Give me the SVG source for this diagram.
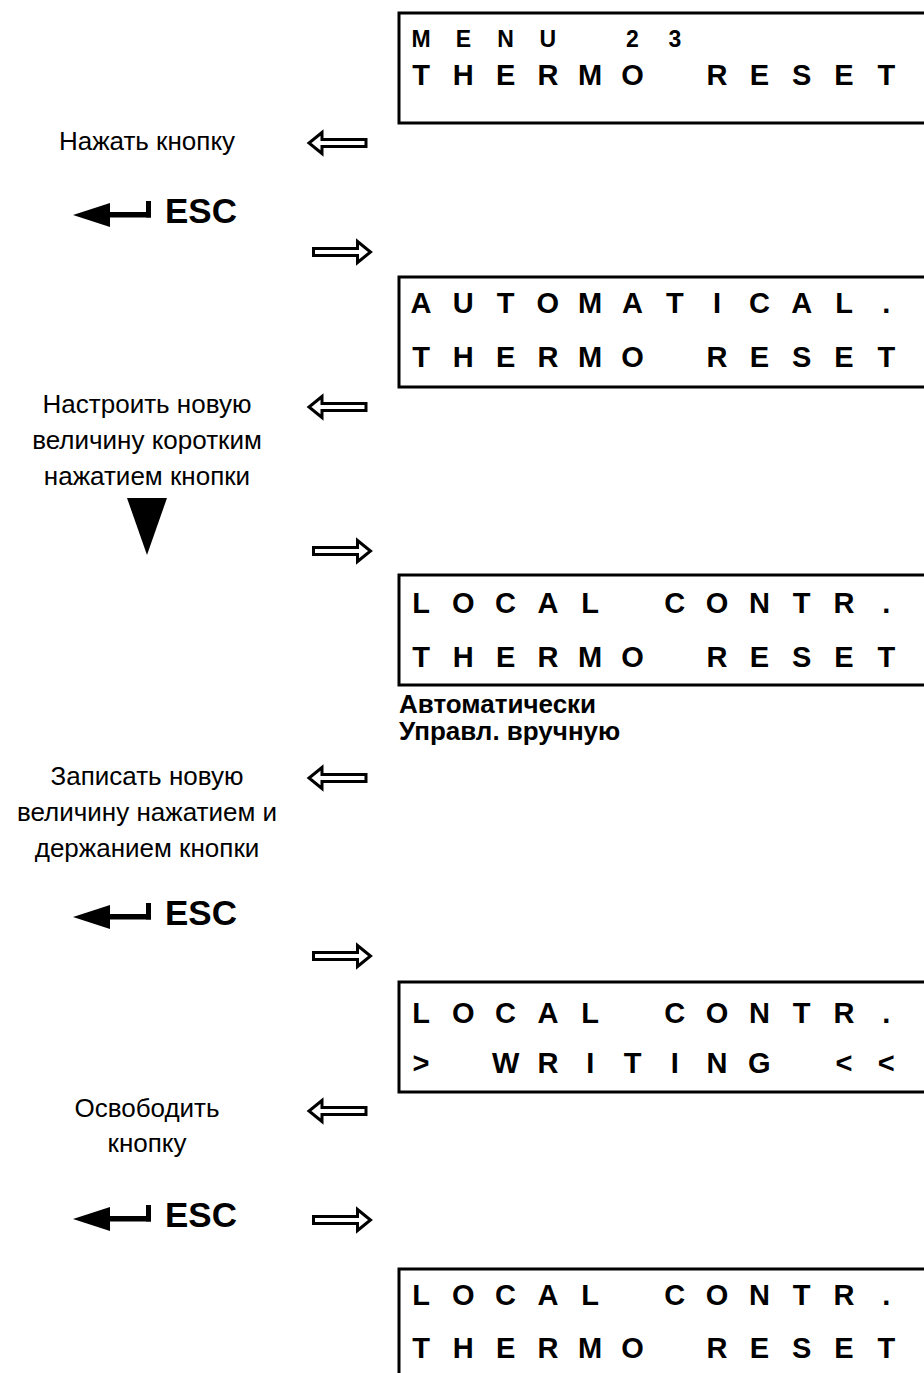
<svg xmlns="http://www.w3.org/2000/svg" xmlns:xlink="http://www.w3.org/1999/xlink" width="924" height="1373" viewBox="0 0 924 1373">
<style>
.box{fill:none;stroke:#000;stroke-width:3}
.lcd{font-family:"Liberation Sans",Arial,sans-serif;font-weight:bold;font-size:29px;fill:#000;text-anchor:middle}
.lcds{font-family:"Liberation Sans",Arial,sans-serif;font-weight:bold;font-size:23px;fill:#000;text-anchor:middle}
.lbl{font-family:"Liberation Sans",Arial,sans-serif;font-size:26px;fill:#000;text-anchor:middle}
.opt{font-family:"Liberation Sans",Arial,sans-serif;font-weight:bold;font-size:26px;fill:#000}
.esc{font-family:"Liberation Sans",Arial,sans-serif;font-weight:bold;font-size:35px;fill:#000}
.ha{fill:#fff;stroke:#000;stroke-width:3;stroke-linejoin:miter}
</style>
<defs>
<path id="ha" class="ha" d="M0,-3.5 H44 V-10.5 L57,0 L44,10.5 V3.5 H0 Z"/>
<g id="enter">
<polygon points="0,0 37,-12 37,12" fill="#000"/>
<rect x="35" y="-3" width="43" height="5.5" fill="#000"/>
<rect x="73" y="-14" width="5" height="16.5" fill="#000"/>
</g>
</defs>
<rect width="924" height="1373" fill="#fff"/>

<g id="box1">
<rect class="box" x="399" y="13" width="600" height="110"/>
<text class="lcds" x="421 463.3 505.6 547.9 632.5 674.8" y="47">MENU23</text>
<text class="lcd" x="421 463.3 505.6 547.9 590.2 632.5 717.1 759.4 801.7 844 886.3" y="85">THERMORESET</text>
</g>

<g id="box2">
<rect class="box" x="399" y="277" width="600" height="110"/>
<text class="lcd" x="421 463.3 505.6 547.9 590.2 632.5 674.8 717.1 759.4 801.7 844 886.3" y="313">AUTOMATICAL.</text>
<text class="lcd" x="421 463.3 505.6 547.9 590.2 632.5 717.1 759.4 801.7 844 886.3" y="367">THERMORESET</text>
</g>

<g id="box3">
<rect class="box" x="399" y="575" width="600" height="110"/>
<text class="lcd" x="421 463.3 505.6 547.9 590.2 674.8 717.1 759.4 801.7 844 886.3" y="613">LOCALCONTR.</text>
<text class="lcd" x="421 463.3 505.6 547.9 590.2 632.5 717.1 759.4 801.7 844 886.3" y="667">THERMORESET</text>
</g>

<g id="options">
<text class="opt" x="399" y="713">Автоматически</text>
<text class="opt" x="399" y="740">Управл. вручную</text>
</g>

<g id="box4">
<rect class="box" x="399" y="982" width="600" height="110"/>
<text class="lcd" x="421 463.3 505.6 547.9 590.2 674.8 717.1 759.4 801.7 844 886.3" y="1023">LOCALCONTR.</text>
<text class="lcd" x="421 505.6 547.9 590.2 632.5 674.8 717.1 759.4 844 886.3" y="1073">&gt;WRITING&lt;&lt;</text>
</g>

<g id="box5">
<rect class="box" x="399" y="1269" width="600" height="200"/>
<text class="lcd" x="421 463.3 505.6 547.9 590.2 674.8 717.1 759.4 801.7 844 886.3" y="1305">LOCALCONTR.</text>
<text class="lcd" x="421 463.3 505.6 547.9 590.2 632.5 717.1 759.4 801.7 844 886.3" y="1358">THERMORESET</text>
</g>

<g id="label1">
<text class="lbl" x="147" y="150">Нажать кнопку</text>
</g>
<g id="label2">
<text class="lbl" x="147" y="413">Настроить новую</text>
<text class="lbl" x="147" y="449">величину коротким</text>
<text class="lbl" x="147" y="485">нажатием кнопки</text>
</g>
<g id="label3">
<text class="lbl" x="147" y="785">Записать новую</text>
<text class="lbl" x="147" y="821">величину нажатием и</text>
<text class="lbl" x="147" y="857">держанием кнопки</text>
</g>
<g id="label4">
<text class="lbl" x="147" y="1117">Освободить</text>
<text class="lbl" x="147" y="1152">кнопку</text>
</g>

<g id="esc1">
<use xlink:href="#enter" x="73" y="215"/>
<text class="esc" x="165" y="223">ESC</text>
</g>
<g id="esc2">
<use xlink:href="#enter" x="73" y="917"/>
<text class="esc" x="165" y="925">ESC</text>
</g>
<g id="esc3">
<use xlink:href="#enter" x="73" y="1219"/>
<text class="esc" x="165" y="1227">ESC</text>
</g>

<g id="connectors">
<use xlink:href="#ha" transform="translate(366,143) scale(-1,1)"/>
<use xlink:href="#ha" transform="translate(313.5,252)"/>
<use xlink:href="#ha" transform="translate(366,407) scale(-1,1)"/>
<polygon points="127,498 167,498 147,555" fill="#000"/>
<use xlink:href="#ha" transform="translate(313.5,551)"/>
<use xlink:href="#ha" transform="translate(366,778) scale(-1,1)"/>
<use xlink:href="#ha" transform="translate(313.5,956)"/>
<use xlink:href="#ha" transform="translate(366,1111) scale(-1,1)"/>
<use xlink:href="#ha" transform="translate(313.5,1220)"/>
</g>
</svg>
